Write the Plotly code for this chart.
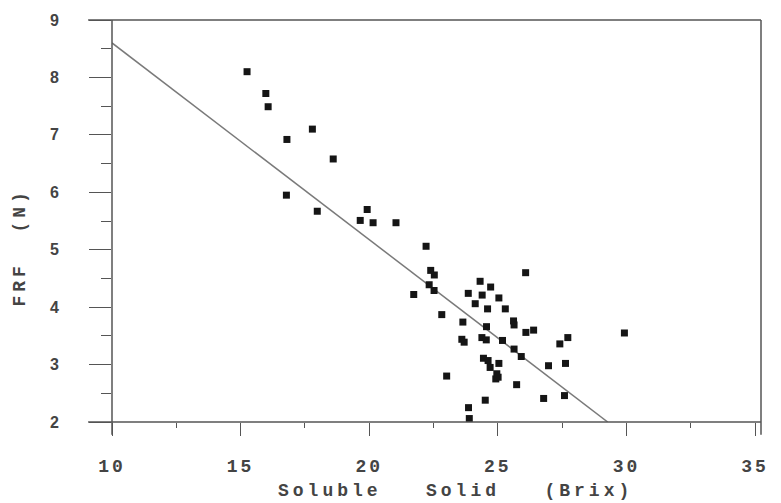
import plotly.graph_objects as go

# Data
brix = [15.25, 15.98, 16.07, 16.80, 17.79, 18.60, 16.78, 17.98, 19.92, 19.65, 20.15, 21.04,
        22.21, 22.39, 22.53, 22.33, 22.52, 21.73, 26.08, 24.31, 24.72, 23.85, 24.39, 25.04,
        24.12, 24.60, 25.29, 22.82, 25.61, 23.64, 25.63, 24.56, 26.09, 26.39, 24.38, 24.55,
        23.60, 23.69, 25.18, 27.41, 27.72, 25.63, 25.91, 24.44, 24.62, 25.04, 24.70, 26.97,
        27.63, 24.96, 24.92, 25.01, 23.01, 25.73, 24.51, 26.78, 27.59, 23.86, 23.89, 29.92]
frf = [8.10, 7.72, 7.49, 6.92, 7.10, 6.58, 5.95, 5.67, 5.70, 5.51, 5.47, 5.47,
       5.06, 4.64, 4.56, 4.39, 4.29, 4.22, 4.60, 4.45, 4.35, 4.24, 4.21, 4.16,
       4.06, 3.97, 3.97, 3.87, 3.76, 3.74, 3.69, 3.66, 3.56, 3.60, 3.47, 3.43,
       3.44, 3.39, 3.42, 3.36, 3.47, 3.27, 3.14, 3.11, 3.07, 3.02, 2.95, 2.98,
       3.02, 2.84, 2.75, 2.78, 2.80, 2.65, 2.38, 2.41, 2.46, 2.25, 2.06, 3.55]

fit_x = [10.0, 29.27]
fit_y = [8.60, 2.0]

x_ticks = [10, 15, 20, 25, 30, 35]
x_ticklabels = ["10", "15", "20", "25", "30", "35"]
y_ticks = [2, 3, 4, 5, 6, 7, 8, 9]
y_ticklabels = ["2", "3", "4", "5", "6", "7", "8", "9"]

x_title = "Soluble\u00a0\u00a0\u00a0Solid\u00a0\u00a0\u00a0(Brix)"
y_title = "FRF\u00a0\u00a0(N)"

AX = "#555555"
TXT = "#444444"
MONO = "Liberation Mono"

fig = go.Figure()
fig.add_trace(go.Scatter(x=fit_x, y=fit_y, mode="lines",
                         line=dict(color="#7a7a7a", width=1.5), showlegend=False))
fig.add_trace(go.Scatter(x=brix, y=frf, mode="markers",
                         marker=dict(symbol="square", size=7, color="#151515"),
                         showlegend=False))

fig.update_layout(
    width=781, height=503,
    margin=dict(l=112, r=17, t=15, b=81),
    plot_bgcolor="white", paper_bgcolor="white",
    showlegend=False,
    xaxis=dict(range=[10, 35.23], showgrid=False, zeroline=False, showline=False,
               tickmode="array", tickvals=x_ticks,
               ticktext=['<span style="letter-spacing:3px">%s</span>' % t for t in x_ticklabels],
               ticks="outside", ticklen=13, tickwidth=1.3, tickcolor=AX,
               ticklabelstandoff=14,
               tickfont=dict(family=MONO, size=18, color=TXT, weight="bold"),
               minor=dict(dtick=2.5, ticks="outside", ticklen=5, tickcolor=AX, tickwidth=1)),
    yaxis=dict(range=[2, 9], showgrid=False, zeroline=False, showline=False,
               tickmode="array", tickvals=y_ticks, ticktext=y_ticklabels,
               ticks="outside", ticklen=22, tickwidth=1.3, tickcolor=AX,
               ticklabelstandoff=27,
               tickfont=dict(family="Liberation Sans", size=16, color=TXT, weight="bold"),
               minor=dict(dtick=0.5, ticks="outside", ticklen=10, tickcolor=AX, tickwidth=1)),
)

lw = 1.5
xl = -24 / 652
yb = -13 / 407
# frame lines
fig.add_shape(type="line", xref="paper", yref="paper", x0=xl, x1=1, y0=0, y1=0,
              line=dict(color=AX, width=lw))
fig.add_shape(type="line", xref="paper", yref="paper", x0=xl, x1=1, y0=1, y1=1,
              line=dict(color=AX, width=lw))
fig.add_shape(type="line", xref="paper", yref="paper", x0=0, x1=0, y0=yb, y1=1,
              line=dict(color=AX, width=lw))
fig.add_shape(type="line", xref="paper", yref="paper", x0=1, x1=1, y0=yb, y1=1,
              line=dict(color=AX, width=lw))

fig.add_annotation(text='<span style="letter-spacing:4px">%s</span>' % x_title,
                   xref="paper", yref="paper", x=(457 - 112) / 652, y=-70 / 407,
                   xanchor="center", yanchor="middle", showarrow=False,
                   font=dict(family=MONO, size=18, color=TXT, weight="bold"))
fig.add_annotation(text='<span style="letter-spacing:4px">%s</span>' % y_title,
                   xref="paper", yref="paper", x=(20 - 112) / 652, y=(422 - 245) / 407,
                   xanchor="center", yanchor="middle", showarrow=False, textangle=-90,
                   font=dict(family=MONO, size=18, color=TXT, weight="bold"))

fig.write_html("out.html")
